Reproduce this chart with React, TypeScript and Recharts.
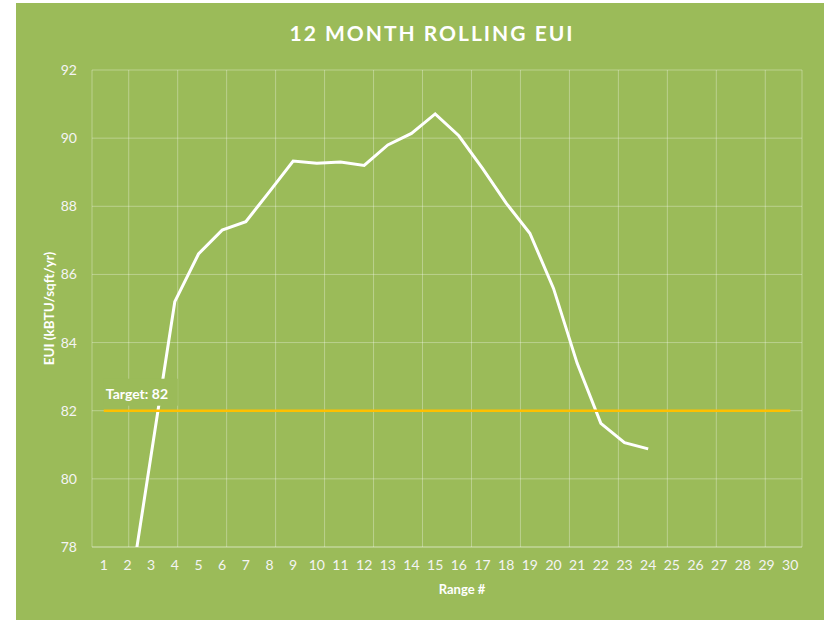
import React from "react";
import {
  CartesianGrid,
  LabelList,
  Line,
  LineChart,
  XAxis,
  YAxis,
} from "recharts";

const ranges = Array.from({ length: 30 }, (_, i) => i + 1);

// rolling EUI, kBTU/sqft/yr (first two points sit below the axis minimum)
const euiValues = [
  73.5, 76.2, 80.7, 85.2, 86.6, 87.3, 87.55, 88.43, 89.33, 89.26, 89.3, 89.2,
  89.8, 90.14, 90.71, 90.07, 89.11, 88.09, 87.21, 85.59, 83.39, 81.63, 81.06,
  80.88,
];

const targetValue = 82;
const yTicks = [78, 80, 82, 84, 86, 88, 90, 92];
const gridTicks = Array.from({ length: 31 }, (_, i) => i + 0.5);

const chartData = ranges.map((r, i) => ({
  range: r,
  eui: i < euiValues.length ? euiValues[i] : null,
  target: targetValue,
}));

const BG = "#9BBB59";
const FONT = "Lato, 'Open Sans', sans-serif";

const TargetLabel = (props: any) => {
  const { x, y, index } = props;
  if (index !== 0) return null;
  return (
    <g>
      <rect x={x} y={y - 32} width={74} height={27} fill={BG} />
      <text
        x={x + 2}
        y={y - 12}
        fill="#ffffff"
        fontSize={14}
        fontWeight={700}
        fontFamily={FONT}
      >
        {`Target: ${targetValue}`}
      </text>
    </g>
  );
};

const YTitle = (props: any) => {
  const vb = props.viewBox || { x: 0, y: 0, height: 0 };
  const cx = vb.x + 38;
  const cy = vb.y + vb.height / 2;
  return (
    <text
      x={cx}
      y={cy}
      transform={`rotate(-90 ${cx} ${cy})`}
      textAnchor="middle"
      fill="#ffffff"
      fontSize={13.5}
      fontWeight={700}
      fontFamily={FONT}
    >
      EUI (kBTU/sqft/yr)
    </text>
  );
};

export default function App() {
  return (
    <div style={{ position: "absolute", left: 16, top: 3 }}>
      <div style={{ width: 808, height: 617, background: BG, position: "relative" }}>
        <LineChart
          width={808}
          height={617}
          data={chartData}
          margin={{ top: 67, right: 22, bottom: 20, left: 0 }}
          style={{ fontFamily: FONT }}
        >
          <text
            x={416}
            y={38}
            textAnchor="middle"
            fill="#ffffff"
            fontSize={21}
            fontWeight={700}
            letterSpacing={2}
            fontFamily={FONT}
          >
            12 MONTH ROLLING EUI
          </text>
          <CartesianGrid
            xAxisId="grid"
            stroke="#ffffff"
            strokeOpacity={0.32}
            strokeWidth={1}
          />
          <XAxis
            xAxisId="grid"
            type="number"
            domain={[0.5, 30.5]}
            ticks={gridTicks}
            hide
          />
          <XAxis
            dataKey="range"
            height={53}
            padding={{ left: 11.8, right: 11.8 }}
            axisLine={{ stroke: "#ffffff", strokeOpacity: 0.32 }}
            tickLine={false}
            tickSize={0}
            tickMargin={13}
            interval={0}
            tick={{ fill: "#F4F4F4", fontSize: 14 }}
            label={{
              value: "Range #",
              position: "insideBottom",
              offset: 6,
              dx: 15,
              fill: "#ffffff",
              fontSize: 13,
              fontWeight: 700,
            }}
          />
          <YAxis
            domain={[78, 92]}
            ticks={yTicks}
            allowDataOverflow
            width={76}
            axisLine={false}
            tickLine={false}
            tickSize={0}
            tickMargin={15}
            tick={{ fill: "#F4F4F4", fontSize: 14 }}
            label={<YTitle />}
          />
          <Line
            dataKey="eui"
            type="linear"
            stroke="#ffffff"
            strokeWidth={3}
            dot={false}
            activeDot={false}
            connectNulls={false}
            isAnimationActive={false}
          />
          <Line
            dataKey="target"
            type="linear"
            stroke="#FFC000"
            strokeWidth={2.5}
            dot={false}
            activeDot={false}
            isAnimationActive={false}
          >
            <LabelList dataKey="target" content={TargetLabel} />
          </Line>
        </LineChart>
      </div>
    </div>
  );
}
